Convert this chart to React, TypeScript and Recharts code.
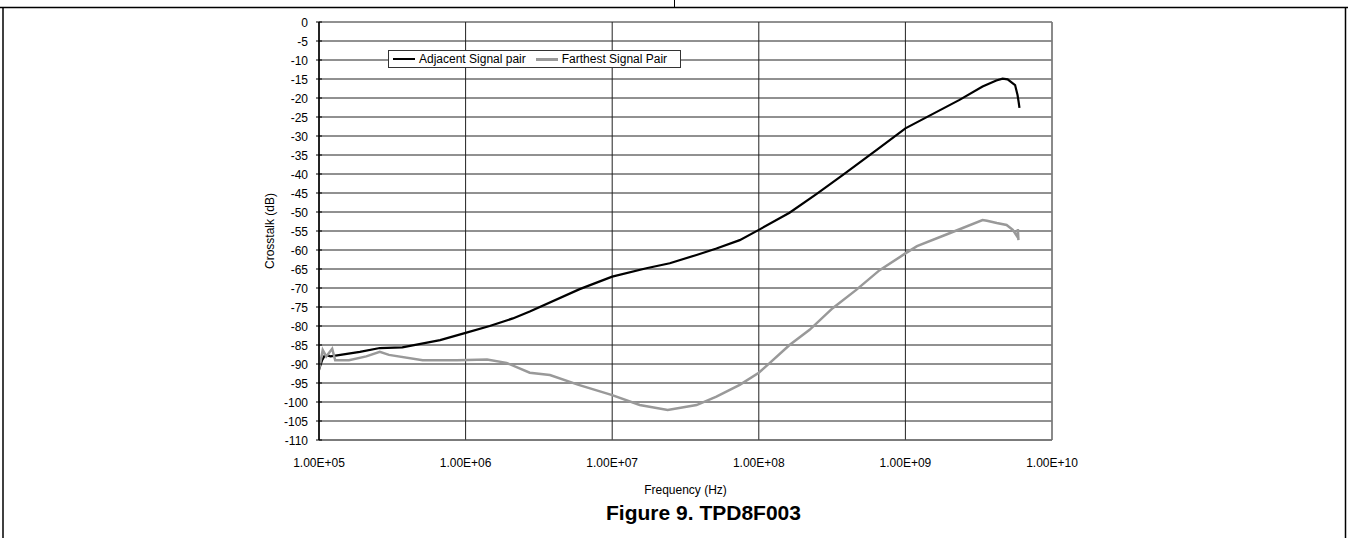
import React from "react";
import { CartesianGrid, Legend, Line, LineChart, ReferenceLine, XAxis, YAxis } from "recharts";

// Adjacent signal pair (frequency in Hz, crosstalk in dB)
const adjFreq = [
  1.0e5, 1.05e5, 1.1e5, 1.2e5, 1.4e5, 1.9e5, 2.6e5, 3.7e5, 6.7e5, 1.0e6, 1.46e6, 2.1e6, 2.74e6, 6.0e6, 1.0e7,
  1.71e7, 2.47e7, 3.76e7, 5.14e7, 7.41e7, 1.0e8, 1.62e8, 2.47e8, 3.73e8, 6.34e8, 1.0e9, 2.34e9, 3.36e9, 4.17e9,
  4.6e9, 4.98e9, 5.6e9, 5.82e9, 5.92e9, 6.0e9,
];
const adjDb = [
  -91.5, -89, -87.6, -88, -87.6, -86.8, -85.8, -85.6, -83.7, -81.8, -80, -78, -76.2, -70.3, -67,
  -64.8, -63.5, -61.3, -59.6, -57.4, -54.7, -50.2, -45.3, -40.3, -33.7, -28, -20.5, -17, -15.4,
  -14.9, -15.1, -16.6, -19.2, -21, -22.6,
];

// Farthest signal pair
const farFreq = [
  1.0e5, 1.06e5, 1.12e5, 1.23e5, 1.29e5, 1.6e5, 2.1e5, 2.6e5, 3.0e5, 5.1e5, 8.7e5, 1.4e6, 1.9e6, 2.74e6, 3.76e6,
  5.9e6, 1.0e7, 1.54e7, 2.39e7, 3.76e7, 5.14e7, 7.41e7, 1.0e8, 1.19e8, 1.62e8, 2.22e8, 3.19e8, 4.62e8, 6.67e8,
  1.0e9, 1.2e9, 2.0e9, 3.36e9, 3.6e9, 4.2e9, 4.9e9, 5.4e9, 5.8e9, 5.85e9, 5.9e9,
];
const farDb = [
  -91.6, -86.3, -88, -86, -89, -89, -88, -86.8, -87.6, -89, -89, -88.8, -89.7, -92.3, -92.9,
  -95.5, -98.2, -100.8, -102.1, -100.8, -98.6, -95.5, -92.3, -89.7, -85, -81, -75.3, -70.5, -65.3,
  -60.9, -59, -55.6, -52.1, -52.3, -52.9, -53.4, -54.7, -56.5, -54.5, -57.4,
];

const xTicks = [1e5, 1e6, 1e7, 1e8, 1e9, 1e10];
const xTickLabels = ["1.00E+05", "1.00E+06", "1.00E+07", "1.00E+08", "1.00E+09", "1.00E+10"];
const minorTicks = [1e5, 1e6, 1e7, 1e8, 1e9].flatMap((d) => [2, 3, 4, 5, 6, 7, 8, 9].map((m) => m * d));
const yTicks = [0, -5, -10, -15, -20, -25, -30, -35, -40, -45, -50, -55, -60, -65, -70, -75, -80, -85, -90, -95, -100, -105, -110];

const adjData = adjFreq.map((f, i) => ({ f, db: adjDb[i] }));
const farData = farFreq.map((f, i) => ({ f, db: farDb[i] }));

const FONT = '"Liberation Sans", Arial, sans-serif';

const YTick = ({ x, y, payload }: any) => (
  <g>
    <line x1={x - 3} x2={x + 3} y1={y} y2={y} stroke="#000" />
    <text x={x - 11} y={y} dy={4.5} textAnchor="end" fontSize={12} fontFamily={FONT} fill="#000">
      {payload.value}
    </text>
  </g>
);

const XTick = ({ x, y, payload }: any) => (
  <text x={x} y={y + 27} textAnchor="middle" fontSize={12} fontFamily={FONT} fill="#000">
    {xTickLabels[xTicks.indexOf(payload.value)]}
  </text>
);

const LegendBox = ({ payload }: any) => (
  <div
    style={{
      display: "flex",
      alignItems: "center",
      height: 18,
      border: "1px solid #333",
      background: "#fff",
      fontFamily: FONT,
      fontSize: 12,
      color: "#000",
      paddingLeft: 4,
      boxSizing: "border-box",
      width: 293,
    }}
  >
    {(payload || []).map((p: any, i: number) => (
      <div key={p.value} style={{ display: "flex", alignItems: "center", marginRight: i === 0 ? 10 : 0 }}>
        <span style={{ display: "inline-block", width: 22, height: i === 0 ? 2 : 3, background: p.color, marginRight: 4 }} />
        <span>{p.value}</span>
      </div>
    ))}
  </div>
);

export default function App() {
  return (
    <div style={{ position: "relative", width: 1348, height: 538, background: "#fff" }}>
      <style>{"body{margin:0}"}</style>
      <LineChart width={1348} height={538} margin={{ top: 22, right: 296, bottom: 68, left: 0 }}>
        <CartesianGrid stroke="#222" />
        <XAxis
          dataKey="f"
          type="number"
          scale="log"
          domain={[1e5, 1e10]}
          ticks={xTicks}
          allowDataOverflow
          height={30}
          axisLine={false}
          tickLine={false}
          tickSize={0}
          tickMargin={0}
          tick={<XTick />}
          interval={0}
        />
        <XAxis
          xAxisId="top"
          orientation="top"
          type="number"
          scale="log"
          domain={[1e5, 1e10]}
          ticks={minorTicks}
          allowDataOverflow
          height={0}
          axisLine={{ stroke: "#000", strokeWidth: 1.5 }}
          tickLine={{ stroke: "#000" }}
          tickSize={3}
          tick={false}
          interval={0}
        />
        <YAxis
          type="number"
          domain={[-110, 0]}
          ticks={yTicks}
          width={319}
          axisLine={{ stroke: "#000", strokeWidth: 1.5 }}
          tickLine={false}
          tickSize={0}
          tickMargin={0}
          tick={<YTick />}
          interval={0}
        />
        <ReferenceLine x={1e10} stroke="#888" strokeWidth={1.5} />
        <ReferenceLine y={-110} stroke="#666" strokeWidth={1} />
        <Legend
          layout="horizontal"
          verticalAlign="middle"
          align="center"
          wrapperStyle={{ top: 50, left: 388, width: 293, height: 19 }}
          content={<LegendBox />}
        />
        <Line
          data={adjData}
          dataKey="db"
          name="Adjacent Signal pair"
          stroke="#000"
          strokeWidth={2.2}
          dot={false}
          type="linear"
          isAnimationActive={false}
        />
        <Line
          data={farData}
          dataKey="db"
          name="Farthest Signal Pair"
          stroke="#999"
          strokeWidth={2.5}
          dot={false}
          type="linear"
          isAnimationActive={false}
        />
      </LineChart>
      <svg
        width={1348}
        height={538}
        style={{ position: "absolute", left: 0, top: 0, pointerEvents: "none" }}
        fontFamily={FONT}
      >
        <line x1={0} x2={1348} y1={7.5} y2={7.5} stroke="#000" strokeWidth={1.5} />
        <line x1={674.5} x2={674.5} y1={0} y2={8} stroke="#000" strokeWidth={1} />
        <line x1={3} x2={3} y1={7} y2={538} stroke="#000" strokeWidth={1.5} />
        <line x1={1345.5} x2={1345.5} y1={7} y2={538} stroke="#000" strokeWidth={1.5} />
        <text x={274} y={231} transform="rotate(-90 274 231)" textAnchor="middle" fontSize={12} fill="#000">
          Crosstalk (dB)
        </text>
        <text x={685.5} y={494} textAnchor="middle" fontSize={12} fill="#000">
          Frequency (Hz)
        </text>
        <text x={703.5} y={520} textAnchor="middle" fontSize={21} fontWeight="bold" fill="#000">
          Figure 9. TPD8F003
        </text>
      </svg>
    </div>
  );
}
